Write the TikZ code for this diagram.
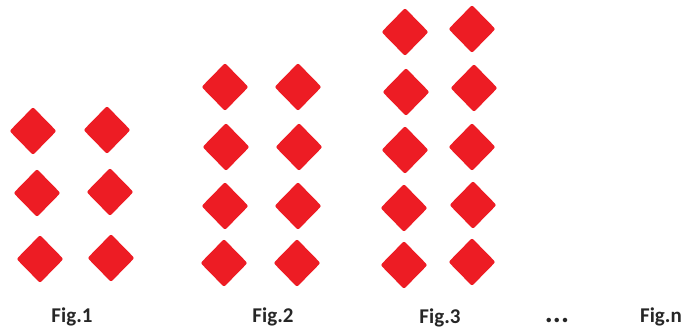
\documentclass[tikz,border=0pt]{standalone}
\usepackage{fontspec}
\setmainfont{Carlito}
\usetikzlibrary{shapes.geometric}
\definecolor{diamondred}{RGB}{237,28,36}
\definecolor{labelgray}{RGB}{38,38,38}

\begin{document}
\begin{tikzpicture}[x=1pt,y=-1pt,
every node/.style={inner sep=0pt},
card/.style={diamond,fill=diamondred,minimum width=47pt,minimum height=48pt,rounded corners=2pt},
figlabel/.style={anchor=base,text=labelgray,font=\fontsize{21}{24}\selectfont\bfseries}]
\useasboundingbox (0,0) rectangle (689,333);
% Fig.1
\node[card] (A11) at (33,131) {};
\node[card] (A12) at (107,130) {};
\node[card] (A13) at (37,193) {};
\node[card] (A14) at (110,192) {};
\node[card] (A15) at (40,259) {};
\node[card] (A16) at (111,258) {};
% Fig.2
\node[card] (B11) at (225,87) {};
\node[card] (B12) at (298,87) {};
\node[card] (B13) at (226,147) {};
\node[card] (B14) at (299,147) {};
\node[card] (B15) at (225,206) {};
\node[card] (B16) at (298,206) {};
\node[card] (B17) at (224,263) {};
\node[card] (B18) at (297,263) {};
% Fig.3
\node[card] (C11) at (405,32) {};
\node[card] (C12) at (472,29) {};
\node[card] (C13) at (406,92) {};
\node[card] (C14) at (474,88) {};
\node[card] (C15) at (405,150) {};
\node[card] (C16) at (472,147) {};
\node[card] (C17) at (404,208) {};
\node[card] (C18) at (473,205) {};
\node[card] (C19) at (404,265) {};
\node[card] (C20) at (472,262) {};
% labels
\node[figlabel] (L1) at (72,322) {Fig.1};
\node[figlabel] (L2) at (273,322) {Fig.2};
\node[figlabel] (L3) at (440,323) {Fig.3};
\node[figlabel,font=\fontsize{30}{30}\selectfont\bfseries] (Ldots) at (557,322) {...};
\node[figlabel] (Ln) at (661,322) {Fig.n};
\end{tikzpicture}
\end{document}
